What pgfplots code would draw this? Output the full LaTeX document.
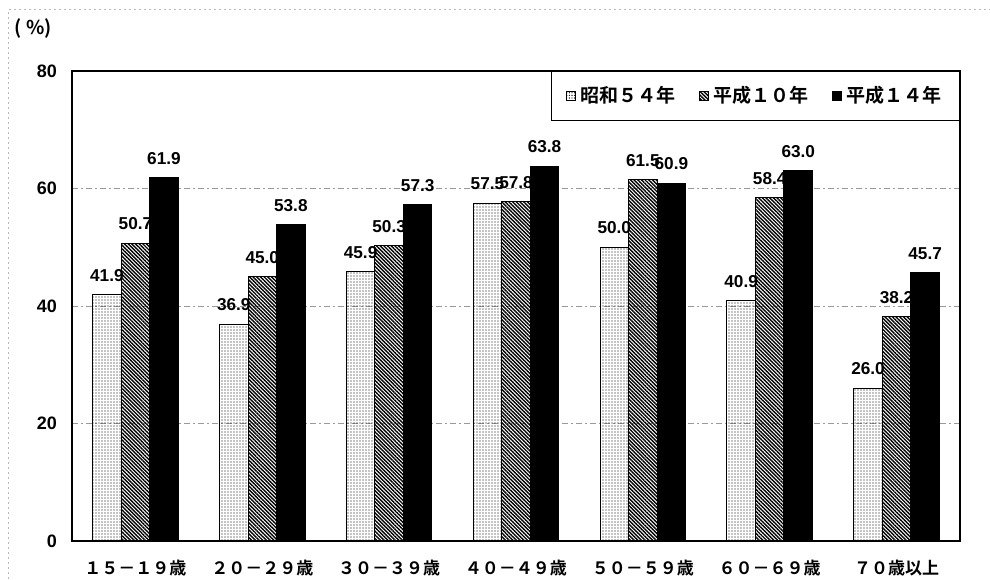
\documentclass[border=0pt]{standalone}
\usepackage{fontspec}
\usepackage{pgfplots}
\pgfplotsset{compat=1.18}
\usetikzlibrary{patterns.meta}
\setmainfont{Liberation Sans}
\newfontfamily\jp{Noto Sans CJK JP}[BoldFont={* Bold}]

\begin{document}
\begin{tikzpicture}
% light dashed frame along the top and left edges
\draw[gray!55, dash pattern=on 1pt off 1.5pt, line width=0.5pt]
  (4pt,0pt) -- (4pt,284.5pt) -- (495pt,284.5pt);
\node[font=\jp\bfseries\fontsize{9.5}{9.5}\selectfont] at (16.5pt,275pt) {( \%)};

\begin{axis}[
  scale only axis, width=444pt, height=235pt,
  at={(36pt,19pt)}, anchor=south west,
  xmin=-0.5, xmax=6.5, ymin=0, ymax=80,
  ytick={0,20,40,60,80},
  xtick={0,...,6},
  xticklabels={１５－１９歳,２０－２９歳,３０－３９歳,４０－４９歳,５０－５９歳,６０－６９歳,７０歳以上},
  xticklabel style={font=\jp\bfseries\fontsize{8.5}{9}\selectfont, yshift=-1.5pt},
  yticklabel style={font=\bfseries\fontsize{9}{9}\selectfont, xshift=-4pt},
  /pgf/number format/assume math mode=true,
  tick style={draw=none},
  axis line style={black, line width=0.8pt},
  ymajorgrids,
  major grid style={gray!80, line width=0.4pt, dash pattern=on 3pt off 1.5pt on 1pt off 1.5pt},
  ybar=0pt, bar width=0.225,
  nodes near coords={\pgfmathprintnumber[fixed,fixed zerofill,precision=1]{\pgfplotspointmeta}},
  every node near coord/.append style={font=\bfseries\fontsize{8.6}{8.6}\selectfont, yshift=3pt, black},
  legend columns=3,
  legend style={at={(1,1)}, anchor=north east, draw=black, line width=0.5pt,
    font=\jp\bfseries\fontsize{9.5}{10}\selectfont,
    inner xsep=7pt, inner ysep=5.5pt,
    /tikz/every even column/.append style={column sep=10pt}},
]
\addplot[draw=black, line width=0.5pt, fill=white,
  pattern={Dots[distance=1.5pt, radius=0.36pt]}, pattern color=black,
  legend image code/.code={\draw[black, line width=0.5pt, pattern={Dots[distance=1.3pt, radius=0.33pt]}] (0pt,-2.3pt) rectangle (4.6pt,2.3pt);}]
  coordinates {(0,41.9) (1,36.9) (2,45.9) (3,57.5) (4,50.0) (5,40.9) (6,26.0)};
\addlegendentry{昭和５４年}
\addplot[draw=black, line width=0.5pt,
  pattern={Lines[angle=-45, distance=1.3pt, line width=0.7pt]}, pattern color=black,
  legend image code/.code={\draw[black, line width=0.5pt, pattern={Lines[angle=-45, distance=1.3pt, line width=0.7pt]}] (0pt,-2.3pt) rectangle (4.6pt,2.3pt);}]
  coordinates {(0,50.7) (1,45.0) (2,50.3) (3,57.8) (4,61.5) (5,58.4) (6,38.2)};
\addlegendentry{平成１０年}
\addplot[draw=black, line width=0.5pt, fill=black,
  legend image code/.code={\fill[black] (0pt,-2.3pt) rectangle (4.6pt,2.3pt);}]
  coordinates {(0,61.9) (1,53.8) (2,57.3) (3,63.8) (4,60.9) (5,63.0) (6,45.7)};
\addlegendentry{平成１４年}
\end{axis}
\pgfresetboundingbox
\path[use as bounding box] (0,0) rectangle (495pt,289.5pt);
\end{tikzpicture}
\end{document}
